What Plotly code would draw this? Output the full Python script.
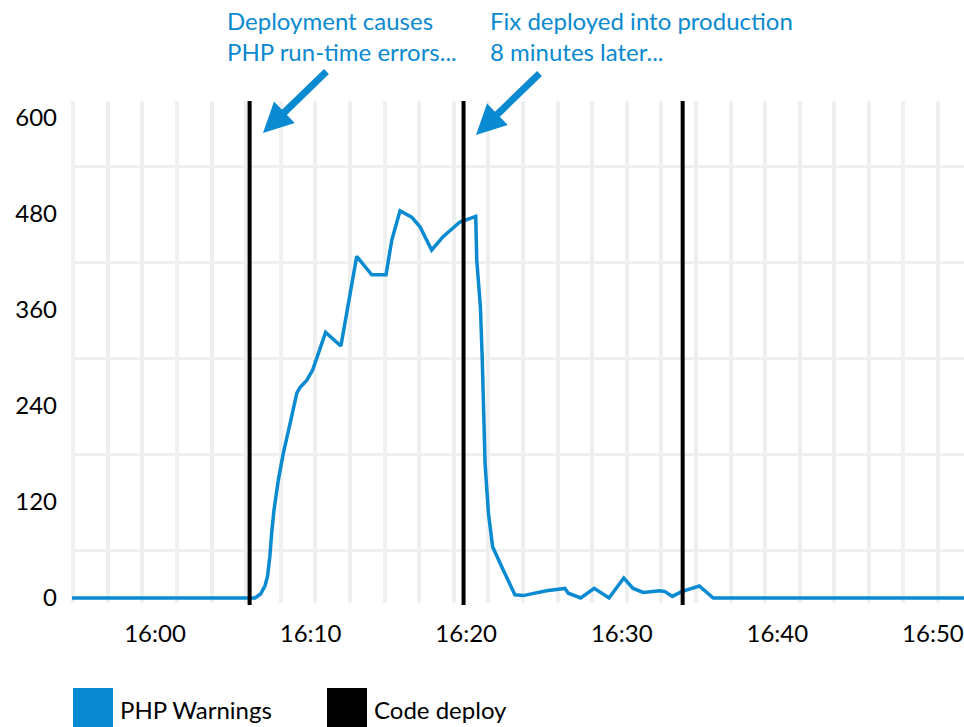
import plotly.graph_objects as go

DAY = "2016-05-10 "

# PHP warnings (time of day, count)
times = [
    "15:54:00", "16:06:26", "16:06:47", "16:07:04", "16:07:14", "16:07:23",
    "16:07:30", "16:07:39", "16:07:56", "16:08:15", "16:08:41", "16:09:07",
    "16:09:19", "16:09:45", "16:10:08", "16:10:23", "16:10:58", "16:11:57",
    "16:12:58", "16:13:56", "16:14:51", "16:15:13", "16:15:45", "16:16:30",
    "16:17:02", "16:17:47", "16:18:32", "16:19:36", "16:20:37", "16:20:41",
    "16:20:55", "16:21:02", "16:21:13", "16:21:26", "16:21:42", "16:22:23",
    "16:23:08", "16:23:40", "16:25:10", "16:26:21", "16:26:34", "16:27:22",
    "16:28:14", "16:29:11", "16:30:08", "16:30:44", "16:31:23", "16:32:27",
    "16:32:47", "16:33:15", "16:33:51", "16:34:59", "16:35:53", "16:53:00",
]
warnings = [
    0, 0, 5, 15, 27, 52,
    81, 110, 148, 181, 218, 256,
    263, 272, 285, 300, 332, 315,
    427, 404, 404, 447, 484, 476,
    464, 435, 452, 470, 477, 422,
    364, 300, 168, 106, 64, 35,
    4, 3, 9, 12, 6, 0,
    12, 0, 25, 12, 7, 9,
    8, 2, 8, 15, 0, 0,
]

deploy_times = ["16:06:05", "16:19:50", "16:33:55"]

x_tick_values = ["16:00", "16:10", "16:20", "16:30", "16:40", "16:50"]
x_tick_labels = ["16:00", "16:10", "16:20", "16:30", "16:40", "16:50"]
y_tick_values = [0, 120, 240, 360, 480, 600]
y_grid_values = [60, 180, 300, 420, 540]

series_names = ["PHP Warnings", "Code deploy"]
annotation_texts = [
    "Deployment causes<br>PHP run-time errors...",
    "Fix deployed into production<br>8 minutes later...",
]

BLUE = "#0a8ad0"
GRID = "#eef0f0"
FONT = "Lato"

W, H = 964, 727
ML, MR, MT, MB = 72, 0, 101, 124
PW, PH = W - ML - MR, H - MT - MB


def px(x):
    return (x - ML) / PW


def py(y):
    return (H - MB - y) / PH


fig = go.Figure()

fig.add_trace(go.Scatter(
    x=[DAY + t for t in times], y=warnings, mode="lines",
    line=dict(color=BLUE, width=3.5), name=series_names[0],
    showlegend=False, hoverinfo="skip",
))

for t in deploy_times:
    fig.add_shape(type="line", xref="x", yref="paper",
                  x0=DAY + t, x1=DAY + t, y0=-0.004, y1=1.0,
                  line=dict(color="black", width=4), layer="above")

# annotations with arrows
fig.add_annotation(xref="paper", yref="paper", x=px(225), y=py(4),
                   xanchor="left", yanchor="top", align="left",
                   text=annotation_texts[0], showarrow=False,
                   font=dict(family=FONT, size=24, color=BLUE))
fig.add_annotation(xref="paper", yref="paper", x=px(488), y=py(4),
                   xanchor="left", yanchor="top", align="left",
                   text=annotation_texts[1], showarrow=False,
                   font=dict(family=FONT, size=24, color=BLUE))
for tip, tail in [((263, 133), (328, 70)), ((476, 135), (541, 72))]:
    fig.add_annotation(xref="paper", yref="paper", x=px(tip[0]), y=py(tip[1]),
                       ax=tail[0] - tip[0], ay=tail[1] - tip[1], text="",
                       showarrow=True, arrowhead=2, arrowsize=0.85,
                       arrowwidth=7, arrowcolor=BLUE, standoff=0)

# custom legend
for (x0, color, label) in [(73, BLUE, series_names[0]), (327, "black", series_names[1])]:
    fig.add_shape(type="rect", xref="paper", yref="paper",
                  x0=px(x0), x1=px(x0 + 40), y0=py(688), y1=py(735),
                  fillcolor=color, line=dict(width=0))
    fig.add_annotation(xref="paper", yref="paper", x=px(x0 + 45), y=py(709),
                       xanchor="left", yanchor="middle", text=label,
                       showarrow=False,
                       font=dict(family=FONT, size=24, color="black"))

fig.update_layout(
    width=W, height=H,
    margin=dict(l=ML, r=MR, t=MT, b=MB, pad=0),
    paper_bgcolor="white", plot_bgcolor="white",
    showlegend=False,
    font=dict(family=FONT, size=24, color="black"),
    xaxis=dict(
        type="date",
        range=[DAY + "15:54:40", DAY + "16:52:00"],
        tickvals=[DAY + v for v in x_tick_values],
        ticktext=x_tick_labels,
        showgrid=False, zeroline=False, showline=False,
        ticks="", ticklabelstandoff=14,
        tickfont=dict(family=FONT, size=24, color="black"),
        minor=dict(showgrid=True, gridcolor=GRID, gridwidth=4,
                   tick0=DAY + "15:54:45", dtick=133400, ticks=""),
    ),
    yaxis=dict(
        range=[-6.25, 621.25],
        tickvals=y_tick_values,
        showgrid=False, zeroline=False, showline=False,
        ticks="", ticklabelstandoff=14,
        tickfont=dict(family=FONT, size=24, color="black"),
        minor=dict(showgrid=True, gridcolor=GRID, gridwidth=3,
                   tickvals=y_grid_values, ticks=""),
    ),
)

fig.write_html(
    "out.html",
    config={"displayModeBar": False},
    post_script="document.body.style.margin='0';document.body.style.overflow='hidden';",
)
